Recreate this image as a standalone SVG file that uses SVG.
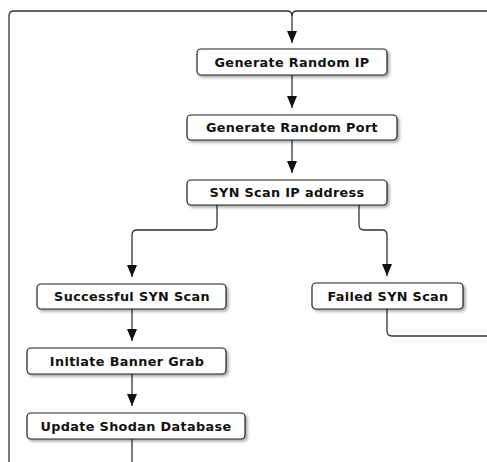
<svg xmlns="http://www.w3.org/2000/svg" width="487" height="462" viewBox="0 0 487 462">
<style>
.box{fill:#fff;stroke:#222;stroke-width:1.2;filter:url(#sh)}
.lbl{font-family:"DejaVu Sans",Verdana,sans-serif;font-weight:bold;font-size:12.8px;letter-spacing:0.35px;fill:#111;text-anchor:middle}
.ln{fill:none;stroke:#333;stroke-width:1.3}
.arr{fill:none;stroke:#333;stroke-width:1.3;marker-end:url(#ah)}
</style>
<defs>
<filter id="sh" x="-10%" y="-30%" width="130%" height="190%">
<feDropShadow dx="2" dy="2" stdDeviation="1.5" flood-color="#000" flood-opacity="0.35"/>
</filter>
<marker id="ah" markerUnits="userSpaceOnUse" markerWidth="12" markerHeight="10" refX="12" refY="5" orient="auto" viewBox="0 0 12 10">
<path d="M0,0 L12,5 L0,10 z" fill="#111"/>
</marker>
</defs>
<rect width="487" height="462" fill="#fff"/>
<g id="connectors">
<path class="ln" d="M9,462 V16 Q9,11 14,11 H287 Q292,11 292,16"/>
<path class="ln" d="M487,11 H297 Q292,11 292,16"/>
<path class="arr" d="M292,16 V43"/>
<path class="arr" d="M292,75 V108"/>
<path class="arr" d="M292,140 V173"/>
<path class="arr" d="M217,205 V225 Q217,230 212,230 H137 Q132,230 132,235 V277"/>
<path class="arr" d="M359,205 V225 Q359,230 364,230 H382 Q387,230 387,235 V276"/>
<path class="arr" d="M132,309 V341"/>
<path class="arr" d="M132,374 V406"/>
<path class="ln" d="M132,439 V462"/>
<path class="ln" d="M387,309 V331 Q387,336 392,336 H487"/>
</g>
<g id="n1"><rect class="box" x="197" y="49" width="190" height="26" rx="4"/><text class="lbl" x="292" y="66.5">Generate Random IP</text></g>
<g id="n2"><rect class="box" x="187" y="115" width="210" height="25" rx="4"/><text class="lbl" x="292" y="132">Generate Random Port</text></g>
<g id="n3"><rect class="box" x="187" y="180" width="200" height="25" rx="4"/><text class="lbl" x="287" y="197">SYN Scan IP address</text></g>
<g id="n4"><rect class="box" x="37" y="284" width="189" height="25" rx="4"/><text class="lbl" x="132" y="301">Successful SYN Scan</text></g>
<g id="n5"><rect class="box" x="312" y="283" width="151" height="26" rx="4"/><text class="lbl" x="388" y="300.5">Failed SYN Scan</text></g>
<g id="n6"><rect class="box" x="27" y="348" width="199" height="26" rx="4"/><text class="lbl" x="127" y="365.5">Initiate Banner Grab</text></g>
<g id="n7"><rect class="box" x="27" y="413" width="218" height="26" rx="4"/><text class="lbl" x="136" y="430.5">Update Shodan Database</text></g>
</svg>
